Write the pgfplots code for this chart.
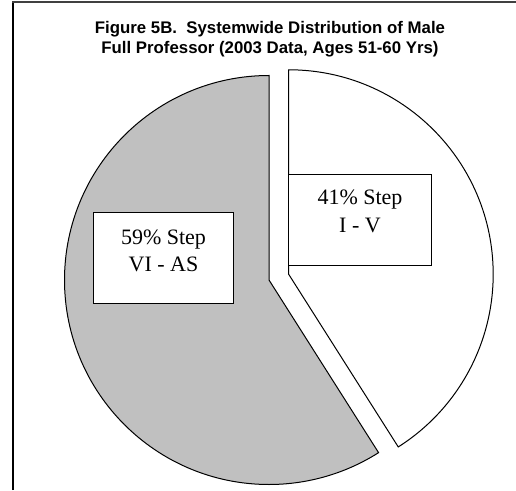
\documentclass[border=0pt]{standalone}
\usepackage{pgfplots}
\pgfplotsset{compat=1.18}
\usepackage{pgfplotstable}
\usepackage{fontspec}
\setmainfont{Liberation Serif}
\newfontfamily\arial{Liberation Sans}
\definecolor{piegray}{RGB}{192,192,192}
\definecolor{framegray}{RGB}{64,64,64}
\pgfplotstableread{
share
59
41
}\slices
\begin{document}
\begin{tikzpicture}
\pgfplotstablegetelem{0}{share}\of\slices \let\ga\pgfplotsretval
\pgfplotstablegetelem{1}{share}\of\slices \let\wa\pgfplotsretval
\pgfmathsetmacro\gend{90+\ga*3.6}
\pgfmathsetmacro\wstart{90-\wa*3.6}
\pgfmathsetmacro\wmid{90-\wa*1.8}
\useasboundingbox (0,0) rectangle (516pt,490pt);
\begin{axis}[x=1pt,y=1pt,xmin=0,xmax=516,ymin=0,ymax=490,hide axis,clip=false,
  anchor=origin,at={(0,0)},scale only axis]
% frame
\draw[black,line width=1.3pt] (axis cs:13,0) -- (axis cs:13,488);
\draw[framegray,line width=2pt] (axis cs:12.35,487.5) -- (axis cs:516,487.5);
% title
\node[font=\arial\bfseries\fontsize{16.8}{19.5}\selectfont,align=center] at (axis cs:270,451) {Figure 5B.\ \ Systemwide Distribution of Male\\Full Professor (2003 Data, Ages 51-60 Yrs)};
% gray slice
\filldraw[fill=piegray,draw=black,line width=1pt] (axis cs:269,210) -- ++(90:204.5pt) arc[start angle=90,end angle=\gend,radius=204.5pt] -- cycle;
% white slice (exploded)
\filldraw[fill=white,draw=black,line width=1pt] (axis cs:269,210) ++(\wmid:20.5pt) -- ++(90:204.5pt) arc[start angle=90,end angle=\wstart,radius=204.5pt] -- cycle;
% labels
\draw[black,fill=white,line width=0.9pt] (axis cs:288,316) rectangle (axis cs:431,225);
\node[font=\fontsize{22}{27.5}\selectfont,align=center] at (axis cs:360,278.5) {41\% Step\\I - V};
\draw[black,fill=white,line width=0.9pt] (axis cs:93,278) rectangle (axis cs:233,187);
\node[font=\fontsize{22}{27.5}\selectfont,align=center] at (axis cs:163.5,239) {59\% Step\\VI - AS};
\end{axis}
\end{tikzpicture}
\end{document}
